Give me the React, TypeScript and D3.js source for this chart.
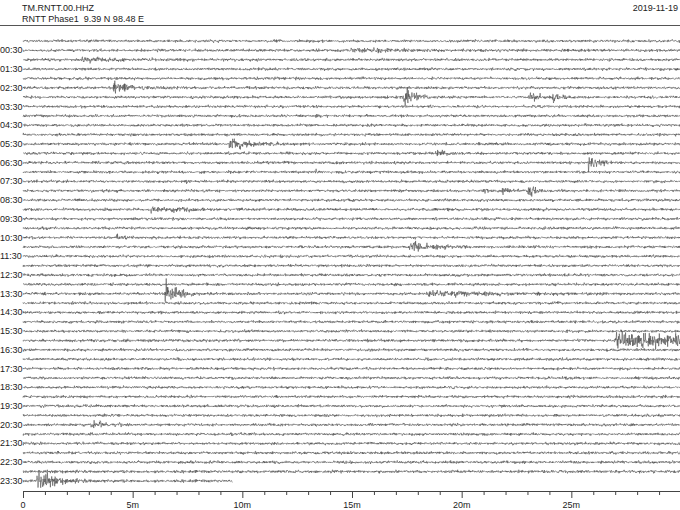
import React from "react";
import * as d3 from "d3";

const W = 680;
const H = 510;

const title = "TM.RNTT.00.HHZ";
const subtitle = "RNTT Phase1  9.39 N 98.48 E";
const dateLabel = "2019-11-19";

// one trace per 30 minutes; labels every hour on the :30 trace
const hourLabels = [
  "00:30", "01:30", "02:30", "03:30", "04:30", "05:30", "06:30", "07:30",
  "08:30", "09:30", "10:30", "11:30", "12:30", "13:30", "14:30", "15:30",
  "16:30", "17:30", "18:30", "19:30", "20:30", "21:30", "22:30", "23:30",
];
const traceCount = 48;
const lastTraceEndMin = 9.55;

const majorTicks = [0, 5, 10, 15, 20, 25];
const majorTickLabels = ["0", "5m", "10m", "15m", "20m", "25m"];

// background noise level per trace (relative)
const noiseLevel = [
  1.0, 1.05, 1.0, 1.0, 1.0, 1.05, 1.0, 1.0, 1.0, 1.0, 1.0, 1.05,
  1.0, 1.0, 1.0, 1.0, 1.0, 1.0, 1.05, 1.0, 1.0, 1.0, 1.0, 1.0,
  1.0, 1.0, 1.0, 1.05, 1.0, 1.0, 1.0, 1.0, 1.05, 1.0, 1.0, 1.0,
  1.0, 1.0, 1.0, 1.0, 1.0, 1.0, 1.0, 1.0, 1.05, 1.05, 1.1, 1.1,
];

// seismic events: trace index, onset (minutes), peak amplitude (px), decay (minutes)
const evTrace = [1, 2, 5, 6, 6, 6, 11, 12, 13, 14, 15, 16, 16, 16, 18, 21, 22, 27, 27, 32, 41, 47, 47];
const evStart = [14.9, 2.6, 4.1, 17.35, 23.0, 24.1, 9.36, 18.8, 25.75, 13.3, 7.4, 20.9, 21.8, 22.97, 5.8, 4.25, 17.6, 6.44, 18.4, 27.0, 3.06, 0.6, 1.0];
const evAmp = [1.4, 1.2, 4.5, 7, 3.5, 5, 4.5, 3.5, 5.5, 3.5, 2.5, 5, 4.5, 5, 1.6, 3.5, 4.5, 9, 2.0, 5.5, 2.5, 8, 1.8];
const evDecay = [2.0, 2.0, 0.6, 0.4, 0.5, 0.3, 0.8, 0.3, 0.4, 0.05, 0.1, 0.15, 0.2, 0.3, 1.5, 0.15, 0.8, 0.5, 2.0, 4.0, 0.6, 0.35, 1.0];

const margin = { left: 23, right: 0, top: 41, bottom: 29 };
const traceSpacing = 9.36;
const axisY = 491;

function buildTrace(i: number, x: d3.ScaleLinear<number, number>) {
  const rng = d3.randomLcg(0.137 + i * 0.0191);
  const normal = d3.randomNormal.source(rng)(0, 0.6 * noiseLevel[i]);
  const endMin = i === traceCount - 1 ? lastTraceEndMin : 30;
  const step = 1 / 3 / 21.9; // third-pixel resolution in minutes
  const pts: [number, number][] = [];
  const evs = evTrace
    .map((t, k) => ({ t, k }))
    .filter((e) => e.t === i)
    .map((e) => e.k);
  for (let m = 0; m <= endMin; m += step) {
    let env = 1;
    for (const k of evs) {
      const dt = m - evStart[k];
      if (dt >= 0) {
        const rise = Math.min(1, dt / 0.03);
        env += (evAmp[k] / 0.9) * rise * Math.exp(-dt / evDecay[k]);
      }
    }
    let v = normal() * env;
    const lim = 1.8 * env;
    v = Math.max(-lim, Math.min(lim, v));
    pts.push([x(m), v]);
  }
  return pts;
}

export default function App() {
  const x = d3.scaleLinear().domain([0, 30]).range([margin.left, W - margin.right + 1]);
  const yTrace = (i: number) => margin.top + i * traceSpacing;
  const line = d3.line<[number, number]>().x((d) => d[0]).y((d) => d[1]);

  const traces = d3.range(traceCount).map((i) => buildTrace(i, x));
  const minorTicks = d3.range(0, 30, 1).filter((m) => m % 5 !== 0);

  const font = "'Liberation Sans', Arial, Helvetica, sans-serif";

  return (
    <svg
      width={W}
      height={H}
      style={{ position: "absolute", left: 0, top: 0, background: "#fff" }}
      fontFamily={font}
    >
      <text x={22} y={10.5} fontSize={9} fill="#222">{title}</text>
      <text x={22} y={21.5} fontSize={9} fill="#222" style={{ whiteSpace: "pre" }}>{subtitle}</text>
      <text x={678} y={10.5} fontSize={9} fill="#222" textAnchor="end">{dateLabel}</text>
      <line x1={0} x2={W} y1={25.5} y2={25.5} stroke="#555" strokeWidth={1} />

      {traces.map((pts, i) => (
        <path
          key={i}
          d={line(pts.map(([px, v]) => [px, yTrace(i) + v])) || ""}
          fill="none"
          stroke="#444"
          strokeWidth={0.55}
        />
      ))}

      {hourLabels.map((lab, h) => (
        <text
          key={lab}
          x={0}
          y={yTrace(2 * h + 1) + 3}
          fontSize={9}
          fill="#222"
        >
          {lab}
        </text>
      ))}

      <line x1={x(0)} x2={W} y1={axisY + 0.5} y2={axisY + 0.5} stroke="#444" strokeWidth={1} />
      {majorTicks.map((m, k) => (
        <g key={m}>
          <line x1={x(m) + 0.5} x2={x(m) + 0.5} y1={axisY} y2={axisY + 7} stroke="#444" strokeWidth={1} />
          <text x={x(m)} y={axisY + 17} fontSize={9} fill="#222" textAnchor="middle">
            {majorTickLabels[k]}
          </text>
        </g>
      ))}
      {minorTicks.map((m) => (
        <line key={m} x1={x(m) + 0.5} x2={x(m) + 0.5} y1={axisY} y2={axisY + 4} stroke="#444" strokeWidth={1} />
      ))}
    </svg>
  );
}
